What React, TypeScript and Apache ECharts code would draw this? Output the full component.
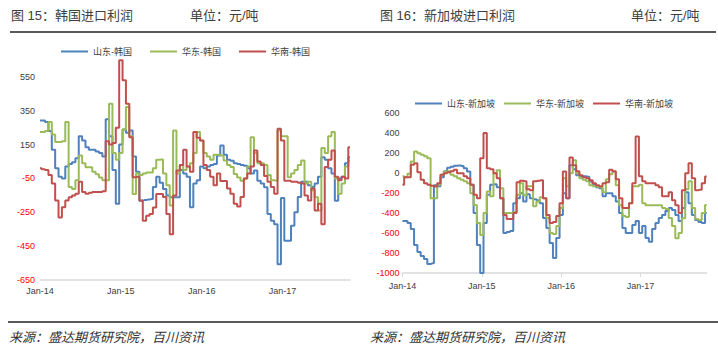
import React, { useEffect, useRef } from "react";
import * as echarts from "echarts";

const FONT = "'Liberation Sans', 'Noto Sans CJK SC', sans-serif";

// x categories: half-month steps from Jan-2014 (93 points, to early Nov-2017)
const MONTHS = ["Jan", "Feb", "Mar", "Apr", "May", "Jun", "Jul", "Aug", "Sep", "Oct", "Nov", "Dec"];
const POINTS = 93;
const categories: string[] = [];
for (let i = 0; i < POINTS; i++) {
  const m = Math.floor(i / 2);
  const yr = 14 + Math.floor(m / 12);
  const label = `${MONTHS[m % 12]}-${yr}`;
  categories.push(i % 2 === 0 ? label : `${label} H2`);
}

// Korea import profit (yuan/ton)
const krNames = ["山东-韩国", "华东-韩国", "华南-韩国"];
const krShandong = [
  293, 293, 283, 230, 120, 10, -40, -50, 20, 36, 46, 70, 200, 175, 135, 119, 119, 110, 100, 80,
  300, 200, 0, -200, 150, 240, 220, 234, 80, -10, -181, -178, -175, -172, -100, -40, -75, -112, -150, -161,
  -161, -161, 0, -20, -40, -220, -80, -60, 20, 10, 20, 30, 36, 85, 145, 90, 60, 55, 40, 35,
  30, 25, 10, -20, -3, -63, -80, -102, -260, -300, -320, -557, -165, -418, -418, -330, -250, -160, -70, -70,
  -90, -100, -80, -40, 76, 60, 10, -20, -181, -50, -40, 40, 75,
];
const krHuadong = [
  224, 224, 230, 283, 210, 165, 165, 170, 283, -100, -112, -60, 85, 40, 16, 16, -10, -25, -45, -60,
  -60, 392, 100, 60, 100, 240, 372, 200, -142, -20, -30, -20, -15, -15, 10, 60, 62, -20, -90, -210,
  234, -20, 30, 0, 20, 40, 100, 224, 175, 100, 80, 60, 90, 90, 85, 56, 30, 17, -23, -45,
  -63, -50, 20, 194, 100, 40, 40, 30, -30, -60, -63, 234, 200, 200, -43, -20, 0, 30, 56, -80,
  -70, -120, -161, -240, 130, 100, 200, 224, -50, -140, -80, 20, 56,
];
const krHuanan = [
  10, 5, 0, -30, -80, -180, -280, -220, -180, -161, -150, -140, -70, -130, -140, -135, -130, -130, -130, -125,
  170, 150, 160, 250, 649, 530, 392, 194, -43, -40, -180, -300, -270, -260, -221, -142, -142, -160, -260, -379,
  -150, -3, 30, 120, 20, -10, 224, 190, 175, 30, 0, -40, -90, -20, -65, -65, -110, -140, -200, -215,
  -160, -50, -20, 20, 115, 50, 30, -35, -70, -100, -140, 244, 175, -63, -63, -70, -70, -75, -80, -150,
  -180, -110, -240, -200, -320, 17, 60, 115, -40, -60, -40, -50, 135,
];

// Singapore import profit (yuan/ton)
const sgNames = ["山东-新加坡", "华东-新加坡", "华南-新加坡"];
const sgShandong = [
  -478, -478, -500, -560, -720, -790, -830, -860, -910, -903, -120, -130, -40, 20, 55, 65, 75, 77, 72, 50,
  17, -117, -400, -720, -1000, -500, -217, -117, -110, -140, -250, -600, -590, -580, -300, -250, -200, -284, -210, -250,
  -260, -270, -300, -450, -550, -700, -850, -650, -420, -200, -250, 80, 40, -20, -30, -30, -35, -83, -110, -140,
  -150, -230, -200, -200, -230, -284, -400, -550, -600, -600, -520, -480, -600, -530, -650, -686, -560, -500, -450, -420,
  -380, -350, -370, -420, -480, -350, -190, -300, -420, -470, -490, -500, -400,
];
const sgHuadong = [
  -30, -40, -5, 117, 218, 200, 185, 170, 150, -250, -250, -117, -16, 17, 20, -16, -30, -50, -66, -80,
  -100, -200, -318, -500, -620, -400, -184, -230, 0, 30, -150, -400, -400, -400, -390, -217, -100, -220, -130, -130,
  -330, -284, -240, -250, -450, -600, -610, -530, -350, -50, -130, 0, 130, 0, -50, -65, -80, -120, -130, -135,
  -140, -190, -60, -10, 17, -120, -320, -430, -440, -300, -130, -130, -117, -300, -320, -320, -320, -320, -320, -350,
  -360, -450, -530, -652, -600, -451, -160, -80, -350, -460, -470, -400, -318,
];
const sgHuanan = [
  -117, -40, -40, 84, 100, 10, -66, -100, -117, -125, -133, -100, -16, 0, 10, 20, 34, 0, 0, -30,
  -50, -117, -217, -250, 150, 402, 50, 40, 0, -50, -250, -420, -460, -460, -400, -90, -75, -80, -160, -170,
  -80, -75, -70, -250, -420, -500, -490, -430, -300, 17, -250, 158, 80, 20, -20, -40, -50, -70, -100, -120,
  -130, -100, -90, 34, 20, -60, -250, -350, -350, -300, -100, 368, -30, -80, -100, -100, -100, -120, -140, -230,
  -230, -190, -270, -320, -400, -170, 0, 100, -50, -170, -165, -100, -33,
];

const COLORS = ["#4F81BD", "#9BBB59", "#C0504D"];

const labelColor = (v: any) => (Number(v) < 0 ? "#FF0000" : "#404040");
const plainNumber = (v: any) => String(v);

function makeXAxis(gi: number) {
  return {
    type: "category",
    gridIndex: gi,
    data: categories,
    boundaryGap: false,
    axisLine: { onZero: false, lineStyle: { color: "#D9D9D9", width: 1.5 } },
    axisTick: {
      show: gi === 1,
      interval: (i: number) => i % 24 === 0,
      length: 4,
      lineStyle: { color: "#D9D9D9" },
    },
    axisLabel: {
      interval: (i: number) => i % 24 === 0,
      formatter: (v: string) => v,
      fontSize: 9,
      fontFamily: FONT,
      color: "#404040",
      margin: gi === 0 ? 6 : 8,
    },
    splitLine: { show: false },
  };
}

function makeSeries(names: string[], datas: number[][], gi: number) {
  return names.map((n, k) => ({
    name: n,
    type: "line",
    xAxisIndex: gi,
    yAxisIndex: gi,
    data: datas[k],
    symbol: "none",
    step: "middle",
    color: COLORS[k],
    lineStyle: { width: 2, color: COLORS[k] },
  }));
}

function txt(text: string, x: number, y: number, extra: any = {}) {
  return {
    type: "text",
    x,
    y,
    silent: true,
    style: {
      text,
      fill: "#404040",
      fontSize: 13,
      fontFamily: FONT,
      verticalAlign: "middle",
      ...extra,
    },
  };
}

export default function App() {
  const ref = useRef<HTMLDivElement>(null);
  useEffect(() => {
    if (!ref.current) return;
    const chart = echarts.init(ref.current, undefined, { renderer: "svg" });
    const legendBase = {
      icon: "rect",
      itemWidth: 27,
      itemHeight: 2,
      padding: 0,
      textStyle: { fontSize: 9, color: "#404040", fontFamily: FONT },
    };
    chart.setOption({
      animation: false,
      textStyle: { fontFamily: FONT },
      grid: [
        { left: 40, top: 60, width: 310, height: 220 },
        { left: 402.5, top: 113.3, width: 304.2, height: 159.7 },
      ],
      xAxis: [makeXAxis(0), makeXAxis(1)],
      yAxis: [
        {
          type: "value",
          gridIndex: 0,
          min: -650,
          max: 650,
          interval: 200,
          axisLine: { show: false },
          axisTick: { show: false },
          splitLine: { show: false },
          axisLabel: {
            showMaxLabel: false,
            fontSize: 9,
            margin: 5,
            color: labelColor,
            formatter: plainNumber,
            fontFamily: FONT,
          },
        },
        {
          type: "value",
          gridIndex: 1,
          min: -1000,
          max: 600,
          interval: 200,
          axisLine: { show: false },
          axisTick: { show: false },
          splitLine: { show: false },
          axisLabel: { fontSize: 9, margin: 3, color: labelColor, formatter: plainNumber, fontFamily: FONT },
        },
      ],
      legend: [
        { ...legendBase, data: krNames, left: 61, top: 47, itemGap: 18 },
        { ...legendBase, data: sgNames, left: 415, top: 99, itemGap: 9 },
      ],
      series: [
        ...makeSeries(krNames, [krShandong, krHuadong, krHuanan], 0),
        ...makeSeries(sgNames, [sgShandong, sgHuadong, sgHuanan], 1),
      ],
      graphic: [
        txt("图 15：韩国进口利润", 11, 15),
        txt("单位：元/吨", 190, 15),
        txt("图 16：新加坡进口利润", 380, 15),
        txt("单位：元/吨", 631, 15),
        {
          type: "line",
          silent: true,
          shape: { x1: 10, y1: 32, x2: 716, y2: 32 },
          style: { stroke: "#595959", lineWidth: 2 },
        },
        {
          type: "line",
          silent: true,
          shape: { x1: 8, y1: 322, x2: 718, y2: 322 },
          style: { stroke: "#595959", lineWidth: 2 },
        },
        txt("来源：盛达期货研究院，百川资讯", 9, 337, { fontStyle: "italic", fill: "#333333" }),
        txt("来源：盛达期货研究院，百川资讯", 370, 337, { fontStyle: "italic", fill: "#333333" }),
      ],
    });
    return () => chart.dispose();
  }, []);
  return (
    <div
      ref={ref}
      style={{ position: "absolute", left: 0, top: 0, width: 718, height: 352 }}
    />
  );
}
